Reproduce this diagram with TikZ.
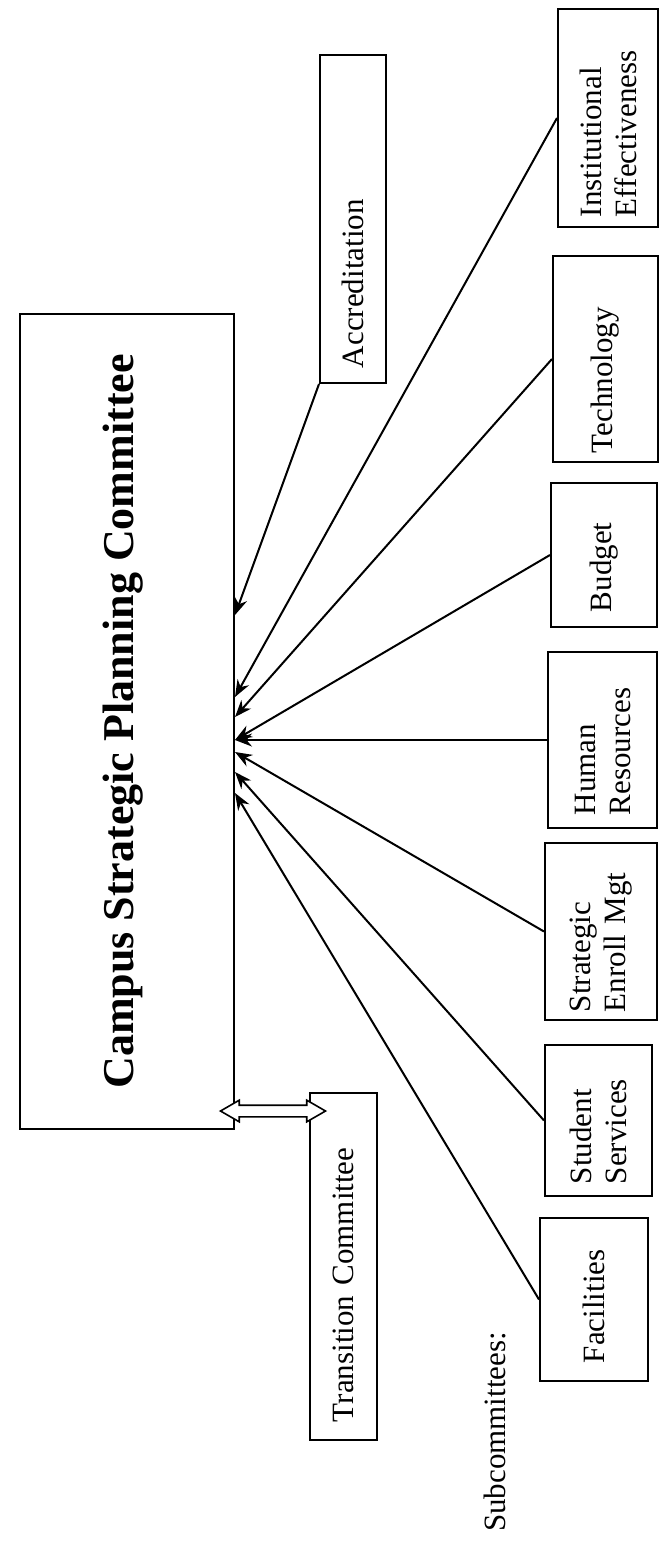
\documentclass[tikz,border=0pt]{standalone}
\usepackage{fontspec}
\setmainfont{Liberation Serif}
\usetikzlibrary{arrows.meta,shapes.arrows}
\newcommand\lblfont{\fontsize{31}{35}\selectfont}
\newcommand\titlefont{\fontsize{44}{50}\selectfont\bfseries}
\tikzset{
  box/.style={draw,line width=2pt,rotate=90,align=left,font=\lblfont,inner ysep=0pt},
  feed/.style={->,line width=2pt},
}
\begin{document}
\begin{tikzpicture}[x=1pt,y=-1pt,>={Stealth[length=17pt,width=13pt]}]
  \useasboundingbox (0,0) rectangle (659,1542);
  \node[box,align=center,font=\titlefont,minimum width=815pt,minimum height=214pt,inner sep=0pt]
    (cspc) at (127,721.5) {\raisebox{-6pt}[0pt][0pt]{Campus Strategic Planning Committee}};
  \node[box,text width=298pt,inner xsep=15pt,minimum height=66pt] (accr) at (353,219) {Accreditation};
  \node[box,text width=311pt,inner xsep=18pt,minimum height=67pt] (trans) at (343.5,1266.5) {Transition Committee};
  \node[draw,fill=white,line width=1.6pt,double arrow,double arrow head extend=5pt,double arrow tip angle=60,
    minimum height=105pt,inner xsep=0pt,inner ysep=5pt] (link) at (273,1111) {};
  \node[box,text width=198pt,inner xsep=10pt,minimum height=100pt] (ie) at (608,118) {Institutional\\Effectiveness};
  \node[box,text width=188pt,inner xsep=9pt,minimum height=105pt] (tech) at (605.5,359) {Technology};
  \node[box,text width=114pt,inner xsep=15pt,minimum height=106pt] (bud) at (604,555) {Budget};
  \node[box,text width=150pt,inner xsep=13pt,minimum height=109pt] (hr) at (602.5,740) {Human\\Resources};
  \node[box,text width=161pt,inner xsep=8pt,minimum height=112pt] (sem) at (601,931.5) {Strategic\\Enroll Mgt};
  \node[box,text width=127pt,inner xsep=12pt,minimum height=107pt] (ss) at (598.5,1120.5) {Student\\Services};
  \node[box,text width=127pt,inner xsep=18pt,minimum height=108pt] (fac) at (594,1299.5) {Facilities};
  \node[rotate=90,anchor=base west,font=\lblfont,inner sep=0pt] (subc) at (505,1532) {Subcommittees:};
  \draw[feed] (accr.north west) -- (cspc.south |- 0,615);
  \draw[feed] (ie.north) -- (cspc.south |- 0,697);
  \draw[feed] (tech.north) -- (cspc.south |- 0,717);
  \draw[feed] (bud.north) -- (cspc.south |- hr.north);
  \draw[feed] (hr.north) -- (cspc.south |- hr.north);
  \draw[feed] (sem.north) -- (cspc.south |- 0,752);
  \draw[feed] (ss.north) -- (cspc.south |- 0,772);
  \draw[feed] (fac.north) -- (cspc.south |- 0,793);
\end{tikzpicture}
\end{document}
